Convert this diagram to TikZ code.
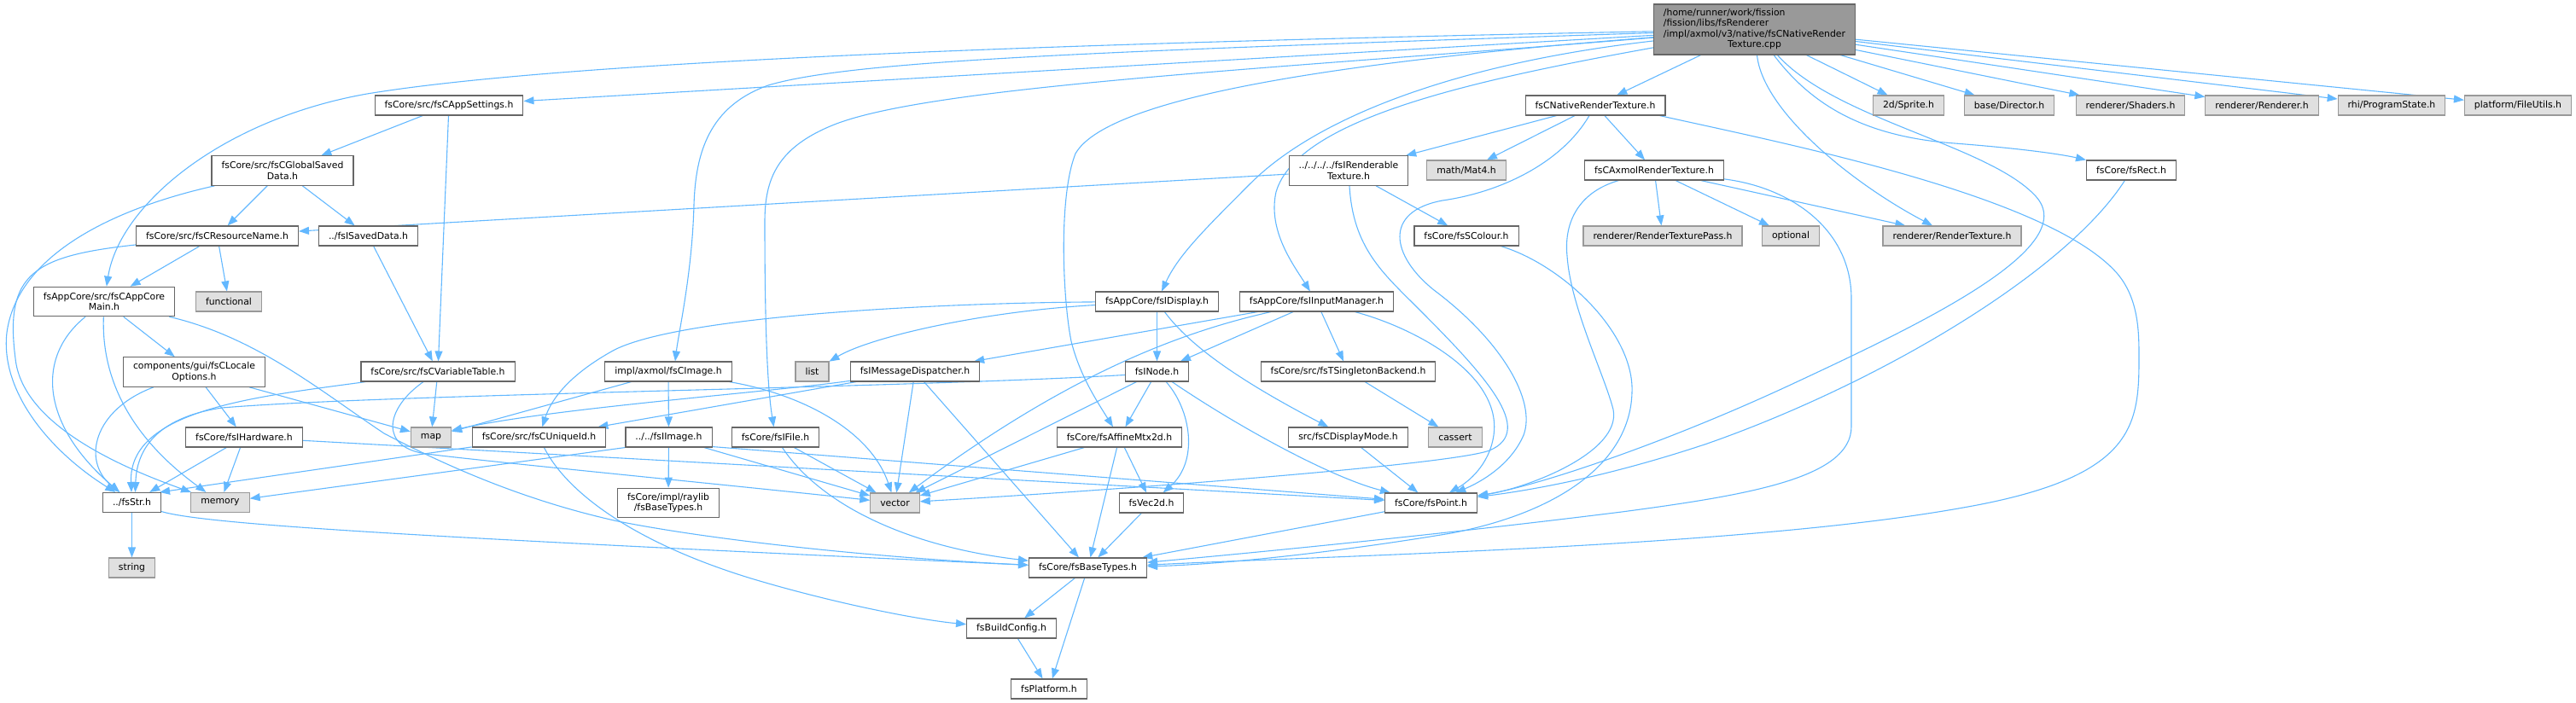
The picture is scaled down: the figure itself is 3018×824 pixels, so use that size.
\documentclass[tikz,border=0pt]{standalone}
\usepackage{fontspec}
\setmainfont{DejaVu Sans}
\usetikzlibrary{arrows.meta,backgrounds}
\definecolor{edgeblue}{HTML}{63B8FF}
\definecolor{bordergray}{HTML}{666666}
\definecolor{extgray}{HTML}{E0E0E0}
\definecolor{extborder}{HTML}{999999}
\definecolor{maingray}{HTML}{999999}
\begin{document}
\begin{tikzpicture}[x=1pt,y=-1pt,
  every node/.style={font=\fontsize{10.85}{12.4}\selectfont, inner xsep=11.5pt, inner ysep=0pt, minimum height=23pt, line width=1.1pt, rectangle},
  hbox/.style={draw=bordergray, fill=white},
  xbox/.style={draw=extborder, fill=extgray},
  mbox/.style={draw=bordergray, fill=maingray, minimum height=59pt},
  two/.style={align=center, minimum height=34.5pt},
  dep/.style={draw=edgeblue, line width=1.1pt, -{Triangle[length=12pt,width=9pt]}},
]
\useasboundingbox (0,0) rectangle (3018,824);
% rank 0
\node[mbox] (M) at (2055.5,34.5) {\begin{tabular}{@{}l@{}}/home/runner/work/fission\\/fission/libs/fsRenderer\\/impl/axmol/v3/native/fsCNativeRender\\\multicolumn{1}{@{}c@{}}{Texture.cpp}\end{tabular}};
% rank 1
\node[hbox] (appset) at (526,123.5) {fsCore/src/fsCAppSettings.h};
\node[hbox] (nrt) at (1869,123.5) {fsCNativeRenderTexture.h};
\node[xbox] (sprite) at (2236,123.5) {2d/Sprite.h};
\node[xbox] (director) at (2354,123.5) {base/Director.h};
\node[xbox] (shaders) at (2496,123.5) {renderer/Shaders.h};
\node[xbox] (renderer) at (2650,123.5) {renderer/Renderer.h};
\node[xbox] (progstate) at (2802,123.5) {rhi/ProgramState.h};
\node[xbox] (fileutils) at (2950,123.5) {platform/FileUtils.h};
% rank 2
\node[hbox,two] (gsd) at (331,200) {fsCore/src/fsCGlobalSaved\\Data.h};
\node[hbox,two] (irt) at (1580,200) {../../../../fsIRenderable\\Texture.h};
\node[xbox] (mat4) at (1718,199.5) {math/Mat4.h};
\node[hbox] (axmol) at (1938,199.5) {fsCAxmolRenderTexture.h};
\node[hbox] (rect) at (2497,199.5) {fsCore/fsRect.h};
% rank 3
\node[hbox] (resname) at (254.5,276.5) {fsCore/src/fsCResourceName.h};
\node[hbox] (isaved) at (431.5,276.5) {../fsISavedData.h};
\node[hbox] (scolour) at (1718,276.5) {fsCore/fsSColour.h};
\node[xbox] (rtpass) at (1948,276.5) {renderer/RenderTexturePass.h};
\node[xbox] (optional) at (2098,276.5) {optional};
\node[xbox] (rtex) at (2287,276.5) {renderer/RenderTexture.h};
% rank 4
\node[hbox,two] (coremain) at (122,353.5) {fsAppCore/src/fsCAppCore\\Main.h};
\node[xbox] (functional) at (268,353.5) {functional};
\node[hbox] (idisplay) at (1355.5,353.5) {fsAppCore/fsIDisplay.h};
\node[hbox] (iinput) at (1542.5,353.5) {fsAppCore/fsIInputManager.h};
% rank 5
\node[hbox,two] (locale) at (227.5,436) {components/gui/fsCLocale\\Options.h};
\node[hbox] (vartable) at (513,435.5) {fsCore/src/fsCVariableTable.h};
\node[hbox] (cimage) at (783,435.5) {impl/axmol/fsCImage.h};
\node[xbox] (list) at (951.5,435.5) {list};
\node[hbox] (msgdisp) at (1072,435.5) {fsIMessageDispatcher.h};
\node[hbox] (inode) at (1355.5,435.5) {fsINode.h};
\node[hbox] (singleton) at (1579.5,435.5) {fsCore/src/fsTSingletonBackend.h};
% rank 6
\node[hbox] (ihw) at (286,512.5) {fsCore/fsIHardware.h};
\node[xbox] (map) at (505,512.5) {map};
\node[hbox] (uid) at (631.5,512.5) {fsCore/src/fsCUniqueId.h};
\node[hbox] (iimage) at (783.5,512.5) {../../fsIImage.h};
\node[hbox] (ifile) at (908.5,512.5) {fsCore/fsIFile.h};
\node[hbox] (affine) at (1311.5,512.5) {fsCore/fsAffineMtx2d.h};
\node[hbox] (dispmode) at (1579.5,512.5) {src/fsCDisplayMode.h};
\node[xbox] (cassert) at (1705,512.5) {cassert};
% rank 7
\node[hbox] (str) at (154.5,589) {../fsStr.h};
\node[xbox] (memory) at (258,589) {memory};
\node[hbox,two] (rlbase) at (783,589.5) {fsCore/impl/raylib\\/fsBaseTypes.h};
\node[xbox] (vector) at (1048.5,589.5) {vector};
\node[hbox] (vec2d) at (1349,589.5) {fsVec2d.h};
\node[hbox] (point) at (1676.5,589.5) {fsCore/fsPoint.h};
% rank 8-10
\node[xbox] (string) at (154.5,665.5) {string};
\node[hbox] (basetypes) at (1274.5,665.5) {fsCore/fsBaseTypes.h};
\node[hbox] (buildcfg) at (1185,736.5) {fsBuildConfig.h};
\node[hbox] (platform) at (1229,807.5) {fsPlatform.h};

\begin{scope}[on background layer]
% from main file
\draw[dep] (M) -- (nrt);
\draw[dep] (M) -- (sprite);
\draw[dep] (M) -- (director);
\draw[dep] (M) -- (shaders);
\draw[dep] (M) -- (renderer);
\draw[dep] (M) -- (progstate);
\draw[dep] (M) -- (fileutils);
\draw[dep] (M) .. controls (2120,120) and (2180,160) .. (2290,168) .. controls (2380,175) and (2420,182) .. (rect);
\draw[dep] (M) .. controls (2065,130) and (2170,215) .. (rtex);
\draw[dep] (M) .. controls (2150,140) and (2330,170) .. (2385,230) .. controls (2440,290) and (2250,380) .. (2100,450) .. controls (1950,520) and (1800,570) .. (point);
\draw[dep] (M) -- (appset);
\draw[dep] (M) .. controls (1000,55) and (600,82) .. (430,110) .. controls (260,140) and (140,240) .. (coremain);
\draw[dep] (M) .. controls (1300,60) and (1000,70) .. (900,100) .. controls (830,125) and (815,180) .. (813,240) .. controls (811,320) and (795,390) .. ([xshift=8pt]cimage.north);
\draw[dep] (M) .. controls (1500,80) and (1100,100) .. (980,145) .. controls (910,172) and (896,210) .. (896,260) .. controls (896,400) and (900,460) .. (ifile);
\draw[dep] (M) .. controls (1700,75) and (1540,140) .. (1465,215) .. controls (1410,270) and (1380,300) .. (idisplay);
\draw[dep] (M) .. controls (1720,95) and (1520,140) .. (1495,225) .. controls (1485,270) and (1515,310) .. (iinput);
\draw[dep] (M) .. controls (1600,70) and (1300,110) .. (1260,180) .. controls (1240,230) and (1245,350) .. (1255,400) .. controls (1265,440) and (1285,470) .. (affine);
% fsCNativeRenderTexture.h
\draw[dep] (nrt) -- (irt);
\draw[dep] (nrt) -- (mat4);
\draw[dep] (nrt) -- (axmol);
\draw[dep] (nrt) .. controls (1830,190) and (1760,225) .. (1690,235) .. controls (1620,248) and (1630,300) .. (1680,340) .. controls (1760,400) and (1800,470) .. (1785,510) .. controls (1770,545) and (1735,565) .. (point);
\draw[dep] ([xshift=-7pt]nrt.south east) .. controls (2100,170) and (2400,230) .. (2480,320) .. controls (2506,350) and (2506,390) .. (2506,420) .. controls (2506,500) and (2500,560) .. (2300,595) .. controls (2050,640) and (1600,650) .. (basetypes);
% fsCAxmolRenderTexture.h
\draw[dep] (axmol) -- (rtpass);
\draw[dep] (axmol) -- (optional);
\draw[dep] (axmol) -- (rtex);
\draw[dep] (axmol) .. controls (2100,220) and (2169,270) .. (2169,350) -- (2169,500) .. controls (2169,560) and (2050,580) .. (1900,600) .. controls (1700,625) and (1500,645) .. (basetypes);
\draw[dep] (axmol) .. controls (1850,225) and (1832,260) .. (1836,300) .. controls (1840,360) and (1880,440) .. (1890,480) .. controls (1900,530) and (1790,572) .. (point);
% fsSColour, fsRect
\draw[dep] (scolour) .. controls (1830,310) and (1915,390) .. (1912,460) .. controls (1910,540) and (1830,600) .. (1700,625) .. controls (1550,650) and (1420,662) .. (basetypes);
\draw[dep] (rect) .. controls (2420,320) and (2200,450) .. (2000,520) .. controls (1880,560) and (1790,575) .. (point);
% fsIRenderableTexture.h
\draw[dep] (irt) -- (scolour);
\draw[dep] (irt) -- (resname);
\draw[dep] (irt) .. controls (1585,290) and (1620,320) .. (1660,360) .. controls (1740,440) and (1800,505) .. (1745,528) .. controls (1700,545) and (1300,575) .. (vector);
% fsIInputManager.h
\draw[dep] (iinput) -- (inode);
\draw[dep] (iinput) -- (singleton);
\draw[dep] (iinput) -- (msgdisp);
\draw[dep] (iinput) .. controls (1380,390) and (1250,440) .. (vector);
\draw[dep] (iinput) .. controls (1660,385) and (1760,440) .. (1750,510) .. controls (1745,545) and (1720,565) .. (point);
% fsIDisplay.h
\draw[dep] (idisplay) -- (inode);
\draw[dep] (idisplay) .. controls (1150,365) and (1020,395) .. (list);
\draw[dep] (idisplay) .. controls (1100,355) and (800,370) .. (720,410) .. controls (665,440) and (645,470) .. (uid);
\draw[dep] (idisplay) .. controls (1390,400) and (1440,440) .. (dispmode);
% fsINode.h
\draw[dep] (inode) -- (affine);
\draw[dep] (inode) .. controls (1395,480) and (1405,540) .. (vec2d);
\draw[dep] (inode) .. controls (1450,500) and (1560,560) .. (point);
\draw[dep] (inode) -- (vector);
\draw[dep] ([yshift=-4pt]inode.west) .. controls (1050,455) and (450,462) .. (260,478) .. controls (180,490) and (160,530) .. ([xshift=4pt]str.north);
% fsIMessageDispatcher.h
\draw[dep] (msgdisp) -- (vector);
\draw[dep] (msgdisp) -- (basetypes);
\draw[dep] (msgdisp) .. controls (900,460) and (650,478) .. ([yshift=8pt]map.east);
\draw[dep] (msgdisp) -- (uid);
% fsIFile.h
\draw[dep] (ifile) -- (vector);
\draw[dep] (ifile) .. controls (960,590) and (1060,640) .. (basetypes);
% fsCImage.h
\draw[dep] (cimage) -- (map);
\draw[dep] (cimage) -- (iimage);
\draw[dep] (cimage) .. controls (940,462) and (1020,505) .. (vector);
% fsIImage.h
\draw[dep] (iimage) -- (rlbase);
\draw[dep] (iimage.south west) -- (memory);
\draw[dep] ([yshift=1pt]iimage.south east) -- (point);
\draw[dep] (iimage) -- (vector);
% locale options
\draw[dep] (locale) .. controls (110,480) and (95,540) .. (str);
\draw[dep] (locale) -- (ihw);
\draw[dep] (locale) -- (map);
% variable table
\draw[dep] (vartable) -- (map);
\draw[dep] ([xshift=6pt]vartable.south west) .. controls (300,465) and (150,480) .. (str);
\draw[dep] (vartable) .. controls (450,480) and (445,525) .. (500,532) .. controls (560,540) and (850,568) .. (vector);
% settings / saved data
\draw[dep] (isaved) -- (vartable);
\draw[dep] (appset) -- (vartable);
\draw[dep] (appset) -- (gsd);
\draw[dep] (gsd) -- (resname);
\draw[dep] (gsd) -- (isaved);
\draw[dep] (gsd) .. controls (130,245) and (20,300) .. (8,390) .. controls (0,460) and (60,530) .. (str);
\draw[dep] (resname) .. controls (40,300) and (5,320) .. (18,420) .. controls (25,490) and (120,540) .. (memory);
\draw[dep] (resname) -- (coremain);
\draw[dep] (resname) -- (functional);
% app core main
\draw[dep] (coremain) .. controls (40,420) and (50,500) .. (str);
\draw[dep] (coremain) .. controls (118,460) and (170,525) .. (memory);
\draw[dep] (coremain) -- (locale);
\draw[dep] (coremain) .. controls (300,395) and (375,458) .. (450,508) .. controls (530,550) and (620,588) .. (724,611) .. controls (850,636) and (1050,655) .. (basetypes);
% fsStr.h
\draw[dep] (str) -- (string);
\draw[dep] (str) .. controls (240,615) and (500,630) .. (basetypes);
% hardware
\draw[dep] (ihw) -- (str);
\draw[dep] (ihw) -- (memory);
\draw[dep] (ihw) -- (point);
% unique id
\draw[dep] (uid) -- ([xshift=-2pt]str.north east);
\draw[dep] (uid) .. controls (660,570) and (730,632) .. (880,678) .. controls (980,708) and (1080,727) .. (buildcfg);
% core maths
\draw[dep] (affine) -- (vector);
\draw[dep] (affine) -- (basetypes);
\draw[dep] (affine) -- (vec2d);
\draw[dep] (vec2d) -- (basetypes);
\draw[dep] (point) -- (basetypes);
\draw[dep] (dispmode) -- (point);
\draw[dep] (singleton) -- (cassert);
\draw[dep] (basetypes) -- (buildcfg);
\draw[dep] (basetypes) -- (platform);
\draw[dep] (buildcfg) -- (platform);
\end{scope}
\end{tikzpicture}
\end{document}
